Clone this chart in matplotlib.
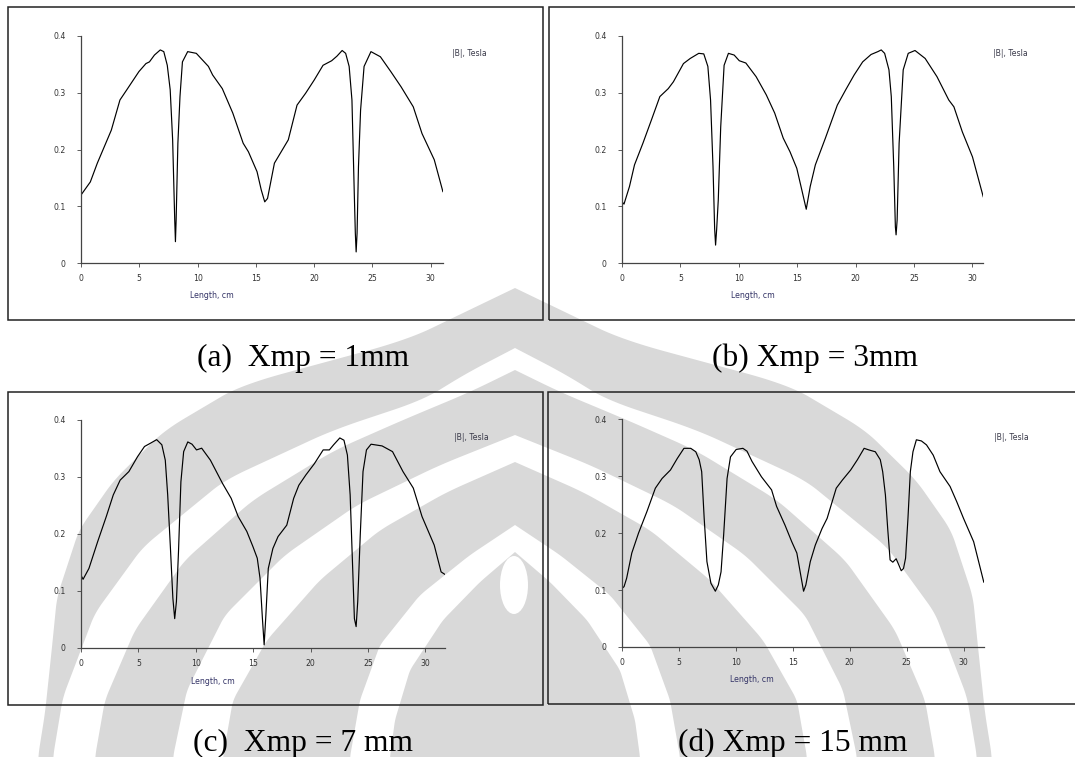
import numpy as np
import matplotlib
matplotlib.use("Agg")
import matplotlib.pyplot as plt
from matplotlib.patches import Rectangle, Ellipse

W, H = 1075, 757

# |B| along the magnet length for each Xmp (cm, Tesla)
x_a = [0, 0.8, 1.4, 2.0, 2.6, 3.34, 3.93, 4.97, 5.57, 5.87, 6.3, 6.8, 7.1, 7.4, 7.65,
       7.86, 8.04, 8.1, 8.16, 8.31, 8.49, 8.7, 9.15, 9.89, 10.93, 11.29, 12.12, 13.02,
       13.91, 14.36, 15.1, 15.46, 15.76, 16.0, 16.59, 17.78, 18.53, 19.27, 20.0, 20.76,
       21.5, 21.95, 22.4, 22.7, 23.0, 23.24, 23.44, 23.53, 23.6, 23.68, 23.8, 23.98,
       24.28, 24.87, 25.68, 26.57, 27.46, 28.5, 29.25, 30.3, 31.04]
b_a = [0.120, 0.143, 0.176, 0.205, 0.234, 0.287, 0.305, 0.337, 0.351, 0.354, 0.366,
       0.375, 0.372, 0.348, 0.305, 0.217, 0.076, 0.038, 0.076, 0.211, 0.293, 0.354,
       0.372, 0.369, 0.346, 0.331, 0.307, 0.264, 0.211, 0.196, 0.161, 0.129, 0.108,
       0.114, 0.176, 0.217, 0.278, 0.299, 0.322, 0.348, 0.356, 0.364, 0.374, 0.369,
       0.346, 0.287, 0.123, 0.053, 0.020, 0.053, 0.170, 0.269, 0.346, 0.372, 0.363,
       0.337, 0.310, 0.275, 0.228, 0.182, 0.126]

x_b = [0, 0.17, 0.64, 1.07, 1.79, 2.52, 3.24, 3.96, 4.4, 5.26, 5.84, 6.57, 7.0, 7.35,
       7.58, 7.79, 7.93, 8.01, 8.1, 8.24, 8.45, 8.74, 9.11, 9.6, 10.04, 10.6, 11.48,
       12.35, 13.07, 13.8, 14.38, 14.96, 15.39, 15.77, 16.11, 16.55, 17.41, 18.43,
       19.15, 19.87, 20.6, 21.32, 21.9, 22.19, 22.48, 22.85, 23.05, 23.26, 23.4, 23.46,
       23.55, 23.72, 24.07, 24.5, 25.08, 25.95, 26.96, 27.97, 28.41, 29.13, 30.0, 30.92]
b_b = [0.108, 0.104, 0.135, 0.173, 0.211, 0.252, 0.293, 0.307, 0.319, 0.351, 0.360,
       0.369, 0.368, 0.346, 0.287, 0.170, 0.061, 0.032, 0.059, 0.111, 0.240, 0.348,
       0.369, 0.366, 0.356, 0.352, 0.328, 0.296, 0.264, 0.220, 0.196, 0.167, 0.129,
       0.095, 0.135, 0.173, 0.220, 0.278, 0.305, 0.331, 0.354, 0.367, 0.372, 0.375,
       0.369, 0.340, 0.293, 0.170, 0.064, 0.050, 0.076, 0.211, 0.340, 0.369, 0.374,
       0.360, 0.328, 0.287, 0.275, 0.231, 0.187, 0.117]

x_c = [0, 0.18, 0.69, 1.45, 2.2, 2.81, 3.41, 4.17, 4.92, 5.53, 5.98, 6.59, 7.04, 7.34,
       7.55, 7.79, 8.0, 8.16, 8.31, 8.49, 8.7, 8.94, 9.3, 9.67, 10.06, 10.51, 11.27,
       12.33, 13.08, 13.69, 14.44, 14.98, 15.35, 15.59, 15.8, 15.95, 16.1, 16.31, 16.71,
       17.16, 17.92, 18.52, 18.97, 19.58, 20.33, 21.09, 21.63, 22.0, 22.54, 22.9, 23.2,
       23.44, 23.66, 23.81, 23.96, 24.1, 24.32, 24.56, 24.86, 25.26, 26.22, 27.13,
       28.04, 28.94, 29.7, 30.76, 31.36, 31.66]
b_c = [0.127, 0.120, 0.139, 0.186, 0.230, 0.268, 0.294, 0.309, 0.335, 0.353, 0.358,
       0.365, 0.356, 0.329, 0.268, 0.174, 0.087, 0.051, 0.081, 0.168, 0.291, 0.344,
       0.361, 0.357, 0.347, 0.350, 0.329, 0.288, 0.262, 0.230, 0.204, 0.177, 0.157,
       0.122, 0.051, 0.005, 0.057, 0.139, 0.174, 0.195, 0.215, 0.262, 0.285, 0.303,
       0.323, 0.347, 0.347, 0.356, 0.368, 0.364, 0.338, 0.268, 0.139, 0.051, 0.037,
       0.081, 0.198, 0.309, 0.347, 0.357, 0.354, 0.344, 0.309, 0.280, 0.230, 0.180,
       0.133, 0.129]

x_d = [0, 0.18, 0.41, 0.86, 1.45, 2.19, 2.93, 3.52, 4.26, 4.85, 5.44, 6.04, 6.48, 6.78,
       7.0, 7.22, 7.46, 7.81, 8.2, 8.46, 8.7, 8.93, 9.23, 9.53, 10.03, 10.62, 10.98,
       11.42, 12.25, 13.14, 13.58, 14.32, 14.91, 15.36, 15.65, 15.95, 16.15, 16.54,
       16.98, 17.57, 18.02, 18.82, 19.35, 20.09, 20.68, 21.27, 21.72, 22.25, 22.69,
       22.9, 23.14, 23.34, 23.55, 23.79, 24.08, 24.32, 24.53, 24.73, 24.91, 25.12,
       25.33, 25.56, 25.86, 26.3, 26.75, 27.34, 27.93, 28.82, 29.41, 30.0, 30.89, 31.78]
b_d = [0.103, 0.106, 0.121, 0.165, 0.200, 0.238, 0.279, 0.296, 0.311, 0.331, 0.349,
       0.349, 0.343, 0.329, 0.308, 0.226, 0.150, 0.112, 0.098, 0.109, 0.132, 0.197,
       0.296, 0.334, 0.347, 0.349, 0.344, 0.326, 0.299, 0.276, 0.247, 0.214, 0.185,
       0.165, 0.132, 0.098, 0.109, 0.150, 0.179, 0.208, 0.226, 0.279, 0.293, 0.311,
       0.329, 0.349, 0.346, 0.343, 0.329, 0.308, 0.267, 0.208, 0.153, 0.149, 0.155,
       0.144, 0.134, 0.138, 0.156, 0.226, 0.308, 0.343, 0.364, 0.362, 0.355, 0.337,
       0.308, 0.282, 0.255, 0.226, 0.185, 0.114]

captions = ["(a)  Xmp = 1mm", "(b) Xmp = 3mm", "(c)  Xmp = 7 mm", "(d) Xmp = 15 mm"]
x_ticks = [0, 5, 10, 15, 20, 25, 30]
y_ticks = [0, 0.1, 0.2, 0.3, 0.4]
y_tick_labels = ["0", "0.1", "0.2", "0.3", "0.4"]

# pixel layout: (axes left, axes right, y of 0.4, y of 0, x max), frame box, caption
panels = [
    dict(x=x_a, b=b_a, ax=(81, 443, 35.7, 263.3, 31.05), frame=(7.6, 7.3, 542.5, 320),
         cap=(197, 366), leg=(452, 54), lab=(212, 296)),
    dict(x=x_b, b=b_b, ax=(622, 983, 35.7, 263.3, 30.9), frame=(549, 7.3, 1090, 320),
         cap=(712, 366), leg=(993, 54), lab=(753, 296)),
    dict(x=x_c, b=b_c, ax=(81, 445, 419.7, 647.7, 31.7), frame=(7.6, 392.3, 543, 705),
         cap=(193, 751), leg=(454, 438), lab=(213, 681)),
    dict(x=x_d, b=b_d, ax=(622, 984, 419.3, 647, 31.8), frame=(548.4, 392.3, 1090, 704.3),
         cap=(678, 751), leg=(994, 438), lab=(752, 680)),
]

# page watermark: symmetric layers given as (y, half width) profiles, drawn in order
GREY = "#d9d9d9"
mark_layers = [
    (GREY, [(288, 0), (340, 108), (385, 274), (430, 350), (480, 401), (530, 436),
            (597, 458), (647, 463), (713, 470), (757, 477)]),
    ("white", [(348, 0), (373, 48), (400, 92), (430, 182), (480, 290), (547, 372),
               (613, 420), (697, 452), (757, 462)]),
    (GREY, [(370, 0), (392, 45), (420, 112), (450, 180), (500, 262), (560, 330),
            (630, 380), (700, 410), (757, 420)]),
    ("white", [(435, 0), (465, 75), (505, 158), (555, 230), (615, 290), (690, 328),
               (757, 342)]),
    (GREY, [(462, 0), (492, 68), (530, 135), (580, 195), (640, 248), (700, 282),
            (757, 292)]),
    ("white", [(525, 0), (555, 45), (595, 95), (645, 135), (700, 155), (757, 165)]),
    (GREY, [(552, 0), (582, 35), (620, 72), (670, 105), (720, 120), (757, 125)]),
]
mark_cx = 515


def fx(px):
    return px / W


def fy(py):
    return 1 - py / H


def smooth_profile(prof, n=300, k=7):
    # linear profile, then a short running mean so the edges curve
    py, phw = np.array(prof, dtype=float).T
    yy = np.linspace(py[0], py[-1], n)
    hw = np.interp(yy, py, phw)
    ext = 2 * hw[0] - hw[1:k + 1][::-1]
    pad = np.r_[ext, hw, np.full(k, hw[-1])]
    hw = np.convolve(pad, np.ones(2 * k + 1) / (2 * k + 1), mode="same")[k:-k]
    return yy, np.clip(hw, 0, None)


fig = plt.figure(figsize=(W / 100, H / 100), dpi=100)
fig.patch.set_facecolor("white")

bg = fig.add_axes([0, 0, 1, 1], zorder=-5)
bg.set_xlim(0, W)
bg.set_ylim(H, 0)
bg.axis("off")
for col, prof in mark_layers:
    yy, hw = smooth_profile(prof)
    bg.fill(np.r_[mark_cx - hw, (mark_cx + hw)[::-1]], np.r_[yy, yy[::-1]],
            color=col, lw=0)
bg.add_patch(Ellipse((514, 585), 28, 58, color="white", lw=0))

small = dict(family="DejaVu Sans", fontsize=5.6)

for p, cap in zip(panels, captions):
    x0, x1, ytop, ybot, xmax = p["ax"]
    ax = fig.add_axes([fx(x0), fy(ybot), (x1 - x0) / W, (ybot - ytop) / H])
    ax.set_facecolor("none")
    ax.plot(p["x"], p["b"], color="black", lw=0.85)
    ax.set_xlim(0, xmax)
    ax.set_ylim(0, 0.4)
    ax.set_xticks(x_ticks)
    ax.set_xticklabels([str(t) for t in x_ticks], **small, color="#333")
    ax.set_yticks(y_ticks)
    ax.set_yticklabels(y_tick_labels, **small, color="#333")
    for s in ("top", "right"):
        ax.spines[s].set_visible(False)
    for s in ("left", "bottom"):
        ax.spines[s].set_color("#444")
        ax.spines[s].set_linewidth(0.9)
    ax.tick_params(axis="both", direction="out", length=3, width=0.6, color="#444")
    ax.tick_params(axis="y", pad=8)
    ax.tick_params(axis="x", pad=5)

    # outer box around each plot
    fl, ft, fr, fb = p["frame"]
    fig.add_artist(Rectangle((fx(fl), fy(fb)), (fr - fl) / W, (fb - ft) / H,
                             transform=fig.transFigure, fill=False,
                             edgecolor="#222", lw=1.1))

    lx, ly = p["leg"]
    fig.text(fx(lx), fy(ly), "|B|, Tesla", va="center", ha="left", color="#3a3a4a", **small)
    tx, ty = p["lab"]
    fig.text(fx(tx), fy(ty), "Length, cm", va="center", ha="center", color="#333366", **small)

    cx, cy = p["cap"]
    fig.text(fx(cx), fy(cy), cap, ha="left", va="baseline",
             family="Liberation Serif", fontsize=22.7, color="black")

fig.savefig("out.png", dpi=100, facecolor="white")
